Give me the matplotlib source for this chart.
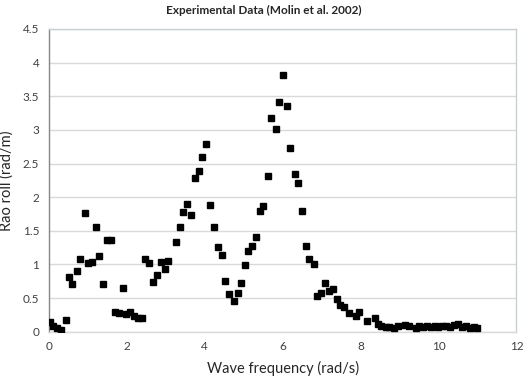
import matplotlib
matplotlib.use("Agg")
import matplotlib.pyplot as plt

freq = [0.03, 0.11, 0.20, 0.30, 0.43, 0.51, 0.60, 0.71, 0.80, 0.92, 1.00, 1.10, 1.20, 1.29,
        1.39, 1.48, 1.58, 1.70, 1.80, 1.89, 1.98, 2.08, 2.18, 2.28, 2.38, 2.47, 2.56, 2.68,
        2.77, 2.88, 2.97, 3.05, 3.26, 3.36, 3.44, 3.54, 3.65, 3.75, 3.84, 3.93, 4.04, 4.13,
        4.24, 4.33, 4.43, 4.52, 4.63, 4.74, 4.84, 4.92, 5.03, 5.12, 5.21, 5.32, 5.43, 5.50,
        5.62, 5.71, 5.82, 5.91, 6.00, 6.10, 6.19, 6.31, 6.40, 6.50, 6.60, 6.68, 6.81, 6.87,
        6.98, 7.09, 7.18, 7.30, 7.39, 7.47, 7.58, 7.69, 7.88, 7.97, 8.17, 8.38, 8.45, 8.53,
        8.64, 8.74, 8.85, 8.96, 9.13, 9.25, 9.41, 9.51, 9.60, 9.70, 9.80, 9.90, 10.00, 10.10,
        10.20, 10.30, 10.40, 10.50, 10.60, 10.70, 10.80, 10.90, 11.00]
rao = [0.15, 0.09, 0.06, 0.03, 0.17, 0.81, 0.71, 0.90, 1.08, 1.76, 1.02, 1.04, 1.56, 1.13,
       0.71, 1.37, 1.36, 0.30, 0.28, 0.65, 0.27, 0.29, 0.24, 0.21, 0.21, 1.08, 1.02, 0.74,
       0.85, 1.03, 0.93, 1.05, 1.33, 1.55, 1.78, 1.90, 1.74, 2.28, 2.39, 2.60, 2.79, 1.89,
       1.55, 1.26, 1.14, 0.75, 0.56, 0.45, 0.57, 0.73, 0.99, 1.20, 1.28, 1.41, 1.80, 1.87,
       2.32, 3.17, 3.01, 3.41, 3.82, 3.36, 2.73, 2.35, 2.21, 1.79, 1.27, 1.08, 1.00, 0.53,
       0.57, 0.73, 0.61, 0.635, 0.49, 0.40, 0.36, 0.28, 0.23, 0.29, 0.16, 0.20, 0.12, 0.08,
       0.07, 0.065, 0.05, 0.08, 0.095, 0.09, 0.05, 0.08, 0.07, 0.08, 0.07, 0.08, 0.07, 0.08,
       0.09, 0.07, 0.10, 0.12, 0.07, 0.09, 0.06, 0.07, 0.06]

x_ticks = [0, 2, 4, 6, 8, 10, 12]
y_ticks = [0, 0.5, 1, 1.5, 2, 2.5, 3, 3.5, 4, 4.5]
y_tick_labels = ["0", "0.5", "1", "1.5", "2", "2.5", "3", "3.5", "4", "4.5"]

plt.rcParams['font.family'] = ['Lato', 'DejaVu Sans']

fig = plt.figure(figsize=(5.28, 3.79), dpi=100)
ax = fig.add_axes([0.0928, 0.1248, 0.978 - 0.0928, 0.9235 - 0.1248])

ax.plot(freq, rao, linestyle='none', marker='s', markersize=3.8, color='black', zorder=3)

ax.set_xlim(0, 12)
ax.set_ylim(0, 4.5)
ax.set_xticks(x_ticks)
ax.set_xticklabels([str(t) for t in x_ticks])
ax.set_yticks(y_ticks)
ax.set_yticklabels(y_tick_labels)
ax.tick_params(axis='both', length=0, labelsize=8.5, colors='#404040', pad=7)
ax.grid(axis='y', color='#d9d9d9', linewidth=1)
ax.set_axisbelow(True)
for side in ['top', 'right']:
    ax.spines[side].set_color('#c8d0d4')
    ax.spines[side].set_linewidth(1)
ax.spines['left'].set_color('#868686')
ax.spines['bottom'].set_color('#d9d9d9')
ax.spines['left'].set_linewidth(1)
ax.spines['bottom'].set_linewidth(1)

ax.set_xlabel("Wave frequency (rad/s)", fontsize=10.5, color='#262626', labelpad=6)
ax.set_ylabel("Rao roll (rad/m)", fontsize=10.5, color='#262626')
ax.yaxis.set_label_coords(-0.075, 0.5)
fig.text(0.5, 0.972, "Experimental Data (Molin et al. 2002)", ha='center', va='center',
         fontsize=8.5, fontweight='bold', color='#262626')

fig.savefig("out.png", dpi=100)
